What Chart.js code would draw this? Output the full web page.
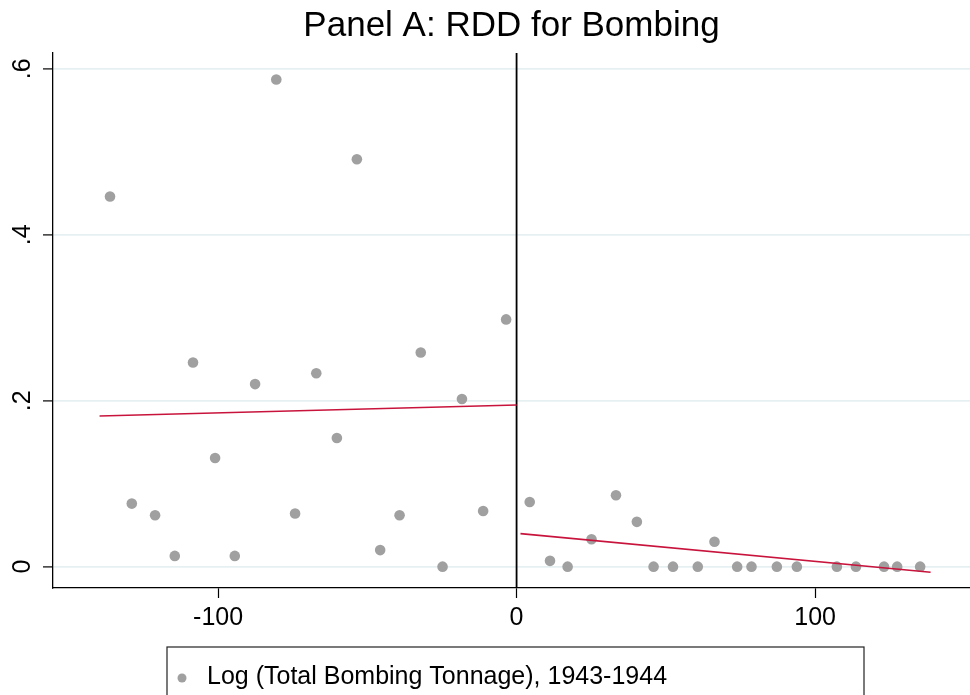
<!DOCTYPE html>
<html>
<head>
<meta charset="utf-8">
<script src="https://cdn.jsdelivr.net/npm/chart.js@4/dist/chart.umd.min.js"></script>
<style>
body { margin: 0; background: #fff; }
#wrap { width: 970px; height: 695px; }
</style>
</head>
<body>
<div id="wrap"><canvas id="chart" width="970" height="695"></canvas></div>
<script>
// distance to cutoff (binned) and mean log bombing tonnage
const binX = [-136.2, -128.9, -121.1, -114.5, -108.4, -101.0, -94.4, -87.6, -80.5, -74.2,
	-67.1, -60.2, -53.5, -45.7, -39.2, -32.1, -24.8, -18.3, -11.2, -3.5,
	4.4, 11.2, 17.1, 25.1, 33.3, 40.3, 45.9, 52.4, 60.7, 66.3,
	73.9, 78.7, 87.2, 93.9, 107.3, 113.7, 123.1, 127.5, 135.2];
const binY = [0.446, 0.076, 0.062, 0.013, 0.246, 0.131, 0.013, 0.220, 0.587, 0.064,
	0.233, 0.155, 0.491, 0.020, 0.062, 0.258, 0.000, 0.202, 0.067, 0.298,
	0.078, 0.007, 0.000, 0.033, 0.086, 0.054, 0.000, 0.000, 0.000, 0.030,
	0.000, 0.000, 0.000, 0.000, 0.000, 0.000, 0.000, 0.000, 0.000];

// linear fits either side of the cutoff
const fitLeftX = [-139.7, 0];
const fitLeftY = [0.1816, 0.1948];
const fitRightX = [1.3, 138.7];
const fitRightY = [0.0398, -0.0067];

const xTicks = [-100, 0, 100];
const yTicks = [0, 0.2, 0.4, 0.6];
const xMin = -155.3, xMax = 151.9;
const yMin = -0.0257, yMax = 0.619;

const titleText = "Panel A: RDD for Bombing";
const legendLabel = "Log (Total Bombing Tonnage), 1943-1944";

const font = "'Liberation Sans', Arial, Helvetica, sans-serif";
const dotColor = "#a0a0a0";
const fitColor = "#c8143c";

function toPoints(xs, ys){
	let pts = [];
	for(let i = 0; i < xs.length; i++) pts[pts.length] = {x: xs[i], y: ys[i]};
	return pts;
}

// stata style legend: boxed, item left aligned
const boxLegend = {
	id: "boxLegend",
	afterDraw(chart){
		const ctx = chart.ctx;
		const area = chart.chartArea;
		const top = chart.height - 48;
		const mid = (area.left + area.right) / 2 + 4;
		const w = 697;
		ctx.save();
		ctx.strokeStyle = "#222";
		ctx.lineWidth = 1.2;
		ctx.strokeRect(mid - w / 2, top, w, 60);
		ctx.fillStyle = chart.data.datasets[0].backgroundColor;
		ctx.beginPath();
		ctx.arc(mid - w / 2 + 15, top + 31, 4.5, 0, Math.PI * 2);
		ctx.fill();
		ctx.fillStyle = "#000";
		ctx.font = "25px " + font;
		ctx.textBaseline = "middle";
		ctx.textAlign = "left";
		ctx.fillText(legendLabel, mid - w / 2 + 40, top + 30);
		ctx.restore();
	}
};

let ctx = document.getElementById("chart").getContext("2d");
let chart = new Chart(ctx, {
	type: "scatter",
	data: {
		datasets: [
			{
				label: legendLabel,
				data: toPoints(binX, binY),
				backgroundColor: dotColor,
				borderWidth: 0,
				pointRadius: 5.3,
				order: 3
			},
			{
				label: "fit left",
				data: toPoints(fitLeftX, fitLeftY),
				showLine: true,
				borderColor: fitColor,
				borderWidth: 1.6,
				pointRadius: 0,
				order: 1
			},
			{
				label: "fit right",
				data: toPoints(fitRightX, fitRightY),
				showLine: true,
				borderColor: fitColor,
				borderWidth: 1.6,
				pointRadius: 0,
				order: 1
			},
			{
				label: "cutoff",
				data: [{x: 0, y: yMax}, {x: 0, y: yMin}],
				showLine: true,
				borderColor: "#000",
				borderWidth: 1.8,
				pointRadius: 0,
				order: 2
			}
		]
	},
	options: {
		responsive: false,
		animation: false,
		layout: {autoPadding: false, padding: {left: 0, right: 0, top: 0, bottom: 48}},
		plugins: {
			legend: {display: false},
			tooltip: {enabled: false},
			title: {
				display: true,
				text: titleText,
				fullSize: false,
				color: "#000",
				font: {family: font, size: 35, weight: "normal", lineHeight: 1.2},
				padding: {top: 5.5, bottom: 5.5}
			}
		},
		scales: {
			x: {
				type: "linear",
				min: xMin,
				max: xMax,
				afterBuildTicks: s => { s.ticks = xTicks.map(v => ({value: v})); },
				afterFit: s => { s.height = 59; s.paddingLeft = 0; s.paddingRight = 0; },
				grid: {drawOnChartArea: false, drawTicks: true, tickLength: 10, tickColor: "#000", tickWidth: 1.2},
				border: {color: "#000", width: 1.3},
				ticks: {
					color: "#000",
					padding: 5,
					maxRotation: 0,
					font: {family: font, size: 25},
					callback: v => String(v)
				}
			},
			y: {
				type: "linear",
				min: yMin,
				max: yMax,
				afterBuildTicks: s => { s.ticks = yTicks.map(v => ({value: v})); },
				afterFit: s => { s.width = 53; s.paddingTop = 0; s.paddingBottom = 0; },
				grid: {color: "#e6f0f2", lineWidth: 1.8, tickLength: 10, tickColor: "#000", tickWidth: 1.2},
				border: {color: "#000", width: 1.3},
				ticks: {
					color: "#000",
					padding: 9,
					minRotation: 90,
					maxRotation: 90,
					crossAlign: "center",
					font: {family: font, size: 25},
					callback: v => v === 0 ? "0" : String(Math.round(v * 10) / 10).replace(/^0/, "")
				}
			}
		}
	},
	plugins: [boxLegend]
});
</script>
</body>
</html>
